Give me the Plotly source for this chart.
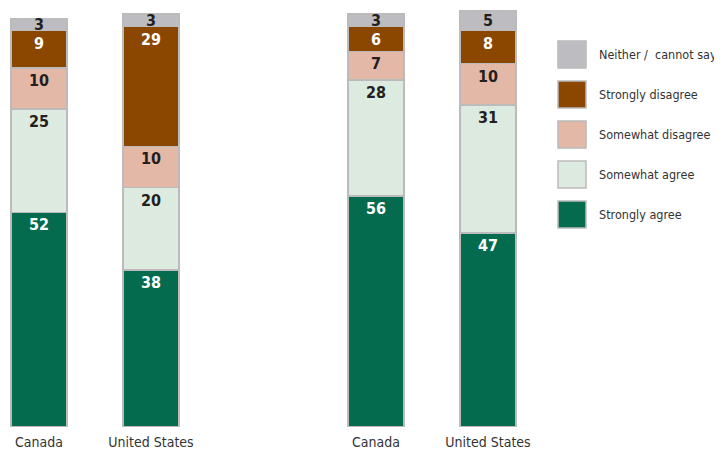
import plotly.graph_objects as go

countries = ["Canada", "United States"]
series = ["Strongly agree", "Somewhat agree", "Somewhat disagree", "Strongly disagree", "Neither /\u00a0 cannot say"]
colors = ["#046B4E", "#DDEADF", "#E3B8A6", "#8B4700", "#BDBDC1"]
text_colors = ["#FFFFFF", "#231F20", "#231F20", "#FFFFFF", "#231F20"]
label_anchor = ["end", "end", "end", "end", "middle"]

# group 1 (left) and group 2 (right): values per series [Canada, United States]
left_values = {
    "Strongly agree": [52, 38],
    "Somewhat agree": [25, 20],
    "Somewhat disagree": [10, 10],
    "Strongly disagree": [9, 29],
    "Neither /\u00a0 cannot say": [3, 3],
}
right_values = {
    "Strongly agree": [56, 47],
    "Somewhat agree": [28, 31],
    "Somewhat disagree": [7, 10],
    "Strongly disagree": [6, 8],
    "Neither /\u00a0 cannot say": [3, 5],
}

OFF = 8  # page body margin
W, H = 722 - OFF, 454 - OFF
MT, MB = 10 - OFF, 27
FONT = "DejaVu Sans Condensed, sans-serif"

def fx(px):
    return (px - OFF) / W

fig = go.Figure()
for vals, xa in [(left_values, "x"), (right_values, "x2")]:
    for s, c, tc, anc in zip(series, colors, text_colors, label_anchor):
        fig.add_trace(go.Bar(
            x=countries, y=vals[s], name=s, xaxis=xa, yaxis="y",
            marker=dict(color=c, line=dict(color="#BBBBBB", width=1.5)),
            text=[str(v) for v in vals[s]], textposition="inside",
            insidetextanchor=anc, constraintext="none", textangle=0,
            textfont=dict(family=FONT, size=16, color=tc, weight="bold"),
            cliponaxis=False, showlegend=False, width=0.5,
        ))

fig.update_layout(
    barmode="stack", width=W, height=H,
    margin=dict(l=0, r=0, t=MT, b=MB),
    paper_bgcolor="white", plot_bgcolor="white",
    font=dict(family=FONT, size=14, color="#333333"),
    xaxis=dict(domain=[fx(8), fx(200)], range=[-31 / 112, 161 / 112], showgrid=False,
               zeroline=False, showline=False, ticks="", anchor="y", automargin=False,
               ticklabelstandoff=5, tickfont=dict(size=14, color="#333333")),
    xaxis2=dict(domain=[fx(330), fx(540)], range=[-46 / 112, 164 / 112], showgrid=False,
                zeroline=False, showline=False, ticks="", anchor="y", automargin=False,
                ticklabelstandoff=5, tickfont=dict(size=14, color="#333333")),
    yaxis=dict(range=[0, 101], visible=False),
)

# custom legend with large swatches
plot_h = H - MT - MB
def py(px):
    return (454 - MB - px) / plot_h

legend_order = list(reversed(series))
legend_colors = list(reversed(colors))
for i, (s, c) in enumerate(zip(legend_order, legend_colors)):
    top = 41 + 40 * i
    fig.add_shape(type="rect", xref="paper", yref="paper",
                  x0=fx(558), x1=fx(586), y0=py(top + 27), y1=py(top),
                  fillcolor=c, line=dict(color="#BBBBBB", width=1.5))
    fig.add_annotation(xref="paper", yref="paper", x=fx(597), y=py(top + 13.5),
                       text=s, showarrow=False, xanchor="left", yanchor="middle",
                       font=dict(family=FONT, size=12.5, color="#333333"))

fig.write_html("out.html")
